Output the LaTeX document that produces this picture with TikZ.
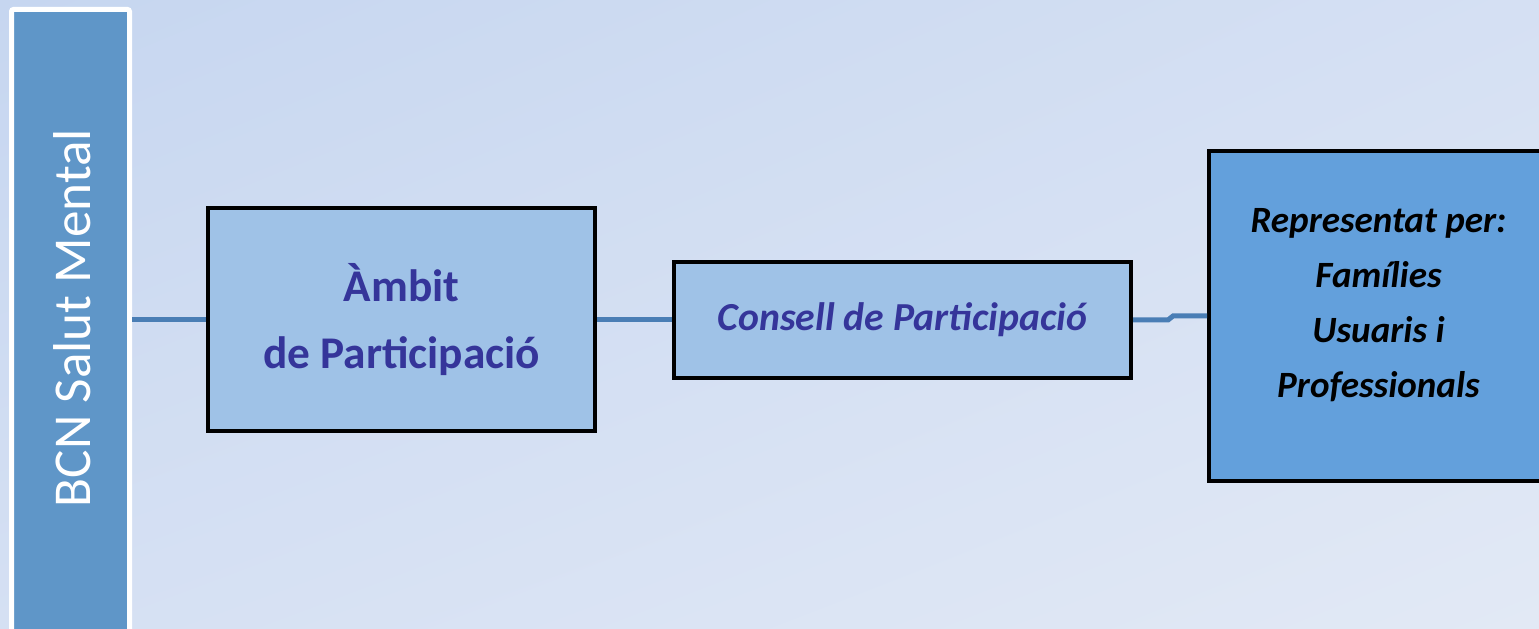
\documentclass[tikz,border=0pt]{standalone}
\usepackage{fontspec}
\setmainfont{Carlito}
\usetikzlibrary{shadings}
\definecolor{bgA}{HTML}{C6D6F0}
\definecolor{bgB}{HTML}{D5E0F3}
\definecolor{bgC}{HTML}{E2E9F5}
\definecolor{barblue}{HTML}{5F96C8}
\definecolor{lightbox}{HTML}{9FC2E7}
\definecolor{darkbox}{HTML}{63A0DC}
\definecolor{txtblue}{HTML}{35359A}
\definecolor{linkblue}{HTML}{4A7EB5}
\tikzset{
  box/.style={draw=black, line width=0.08cm, inner sep=0pt, align=center},
  link/.style={draw=linkblue, line width=0.1cm},
}
\begin{document}
\begin{tikzpicture}
\useasboundingbox (0,0) rectangle (30.78,12.56);
\shade[upper left=bgA, upper right=bgB, lower left=bgB, lower right=bgC] (0,0) rectangle (30.78,12.56);
\begin{scope}
\clip (0,0) rectangle (30.78,12.56);
\node[draw=white, fill=barblue, line width=0.1cm, rounded corners=0.04cm, minimum width=2.36cm, minimum height=12.81cm, inner sep=0pt] (bar) at (1.41,5.965) {};
\node[text=white, rotate=90, font=\fontsize{30.3}{33}\selectfont] (bartxt) at (1.44,6.2) {BCN Salut Mental};
\node[box, fill=lightbox, minimum width=7.74cm, minimum height=4.46cm, text=txtblue, font=\bfseries\fontsize{25.8}{38.5}\selectfont] (ambit) at (8.03,6.17) {Àmbit\\de Participació};
\node[box, fill=lightbox, minimum width=9.14cm, minimum height=2.32cm, text=txtblue, font=\bfseries\itshape\fontsize{22.6}{26}\selectfont] (consell) at (18.05,6.16) {Consell de Participació};
\node[box, fill=darkbox, minimum width=6.72cm, minimum height=6.6cm] (repr) at (27.54,6.24) {};
\node[text=black, align=center, font=\bfseries\itshape\fontsize{21.1}{31.3}\selectfont] (reprtxt) at (27.57,6.45) {Representat per:\\Famílies\\Usuaris i\\Professionals};
\end{scope}
\coordinate (k1) at (23.36,6.16);
\coordinate (k2) at (23.46,6.24);
\draw[link] (bar.east |- ambit.west) -- (ambit.west);
\draw[link] (ambit.east |- consell.west) -- (consell.west);
\draw[link] (consell.east) -- (k1) -- (k2) -- (repr.west);
\end{tikzpicture}
\end{document}
